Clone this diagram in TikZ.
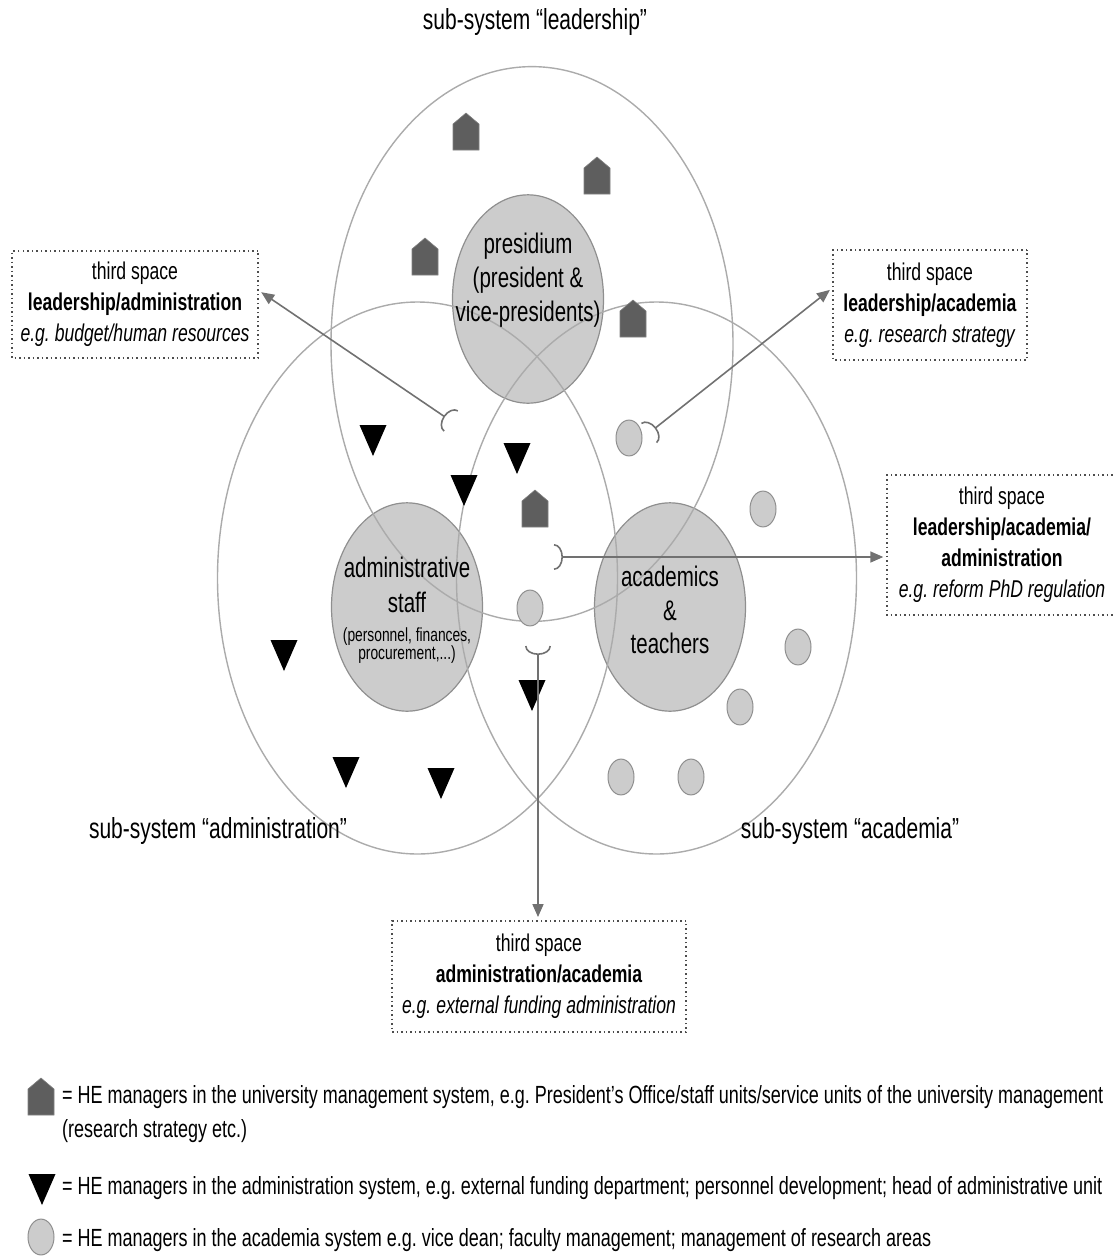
\documentclass[tikz,border=0pt]{standalone}
\usepackage{fontspec}
\setmainfont{Liberation Sans}
\usepackage{tikz}
\usetikzlibrary{arrows.meta}
\definecolor{ringgray}{HTML}{ABABAB}
\definecolor{blobfill}{HTML}{CCCCCC}
\definecolor{blobline}{HTML}{8F8F8F}
\definecolor{housegray}{HTML}{5E5E5E}
\definecolor{arrowgray}{HTML}{717171}
\definecolor{boxline}{HTML}{4D4D4D}
\frenchspacing

\begin{document}
\begin{tikzpicture}[x=1pt,y=-1pt,
    ring/.style={circle,draw=ringgray,line width=1.4pt,inner sep=0pt,yscale=1.38},
    blob/.style={circle,draw=blobline,fill=blobfill,line width=1.2pt,inner sep=0pt,minimum size=151pt,yscale=1.38},
    acadot/.style={circle,draw=blobline,fill=blobfill,line width=1pt,inner sep=0pt,minimum size=26pt,yscale=1.38},
    txt/.style={align=center,yscale=1.38,inner sep=0pt},
    mid/.style={txt,font=\fontsize{20.5}{24.5}\selectfont},
    sub/.style={txt,font=\fontsize{21}{25}\selectfont},
    tspace/.style={txt,draw=boxline,dash pattern=on 1.5pt off 3pt,line width=1.4pt,font=\fontsize{17.6}{22.5}\selectfont},
    leg/.style={yscale=1.38,anchor=west,align=left,inner sep=0pt,font=\fontsize{18}{24.6}\selectfont},
    conn/.style={draw=arrowgray,line width=1.6pt,{Arc Barb[reversed,width=26pt,length=9pt]}-{Triangle[width=11pt,length=13pt]},shorten >=3pt}]
  \useasboundingbox (0,0) rectangle (1112,1259);

  % filled circles
  \node[blob] (presid) at (528,299) {};
  \node[blob] (staff) at (407,607) {};
  \node[blob] (teach) at (670,607) {};

  % sub-systems
  \node[ring,minimum size=402pt] (lead) at (532,344) {};
  \node[ring,minimum size=400pt] (admin) at (417.5,578) {};
  \node[ring,minimum size=400pt] (acad) at (656.5,578) {};

  % managers
  \foreach \x/\y in {466/132,597/176,425/257,633/319,535/509,41/1097}
    \filldraw[fill=housegray,draw=gray,line width=0.6pt] (\x-13,\y+18) -- ++(26,0) -- ++(0,-26) -- ++(-13,-11) -- ++(-13,11) -- cycle;
  \foreach \x/\y in {373/440,517/458,464/490,284/655,532/695,346/772,441/783,42/1189}
    \fill (\x-13.5,\y-15) -- ++(27,0) -- ++(-13.5,31) -- cycle;
  \foreach \x/\y [count=\i] in {629/438,530/608,763/509,798/647,740/707,621/777,691/777,41/1237}
    \node[acadot] (dot\i) at (\x,\y) {};

  \node[mid] (presidtxt) at (528,280) {presidium\\(president \&\\vice-presidents)};
  \node[mid,font=\fontsize{20.5}{25.4}\selectfont] (stafftxt) at (407,585) {administrative\\staff};
  \node[txt,font=\fontsize{13.8}{13}\selectfont] (staffsub) at (407,646) {(personnel, finances,\\procurement,...)};
  \node[mid] (teachtxt) at (670,610) {academics\\\&\\teachers};

  \node[sub] (leadlbl) at (535,22) {sub-system “leadership”};
  \node[sub] (adminlbl) at (218,831) {sub-system “administration”};
  \node[sub] (acadlbl) at (850,831) {sub-system “academia”};

  % third spaces
  \node[tspace,minimum width=246pt,minimum height=77.5pt] (boxla) at (135,304.5)
    {third space\\\textbf{leadership/administration}\\\textit{e.g. budget/human resources}};
  \node[tspace,minimum width=194pt,minimum height=79.7pt] (boxlc) at (930,305)
    {third space\\\textbf{leadership/academia}\\\textit{e.g. research strategy}};
  \node[tspace,minimum width=230pt,minimum height=101.4pt] (boxall) at (1002,545)
    {third space\\\textbf{leadership/academia/}\\\textbf{administration}\\\textit{e.g. reform PhD regulation}};
  \node[tspace,minimum width=294pt,minimum height=80.4pt] (boxac) at (539,976.5)
    {third space\\\textbf{administration/academia}\\\textit{e.g. external funding administration}};

  \coordinate (cupla) at (451,421);
  \coordinate (cuplc) at (649,433);
  \coordinate (cupall) at (554,557);
  \coordinate (cupac) at (538,646);
  \draw[conn] (cupla) -- ([yshift=14pt]boxla.east);
  \draw[conn] (cuplc) -- ([yshift=17pt]boxlc.west);
  \draw[conn] (cupall) -- (cupall -| boxall.west);
  \draw[conn] (cupac) -- (cupac |- boxac.north);

  % legend
  \node[leg] (keyhouse) at (62,1114) {= HE managers in the university management system, e.g. President's Office/staff units/service units of the university management\\(research strategy etc.)};
  \node[leg] (keytri) at (62,1188) {= HE managers in the administration system, e.g. external funding department; personnel development; head of administrative unit};
  \node[leg] (keydot) at (62,1240) {= HE managers in the academia system e.g. vice dean; faculty management; management of research areas};
\end{tikzpicture}
\end{document}
